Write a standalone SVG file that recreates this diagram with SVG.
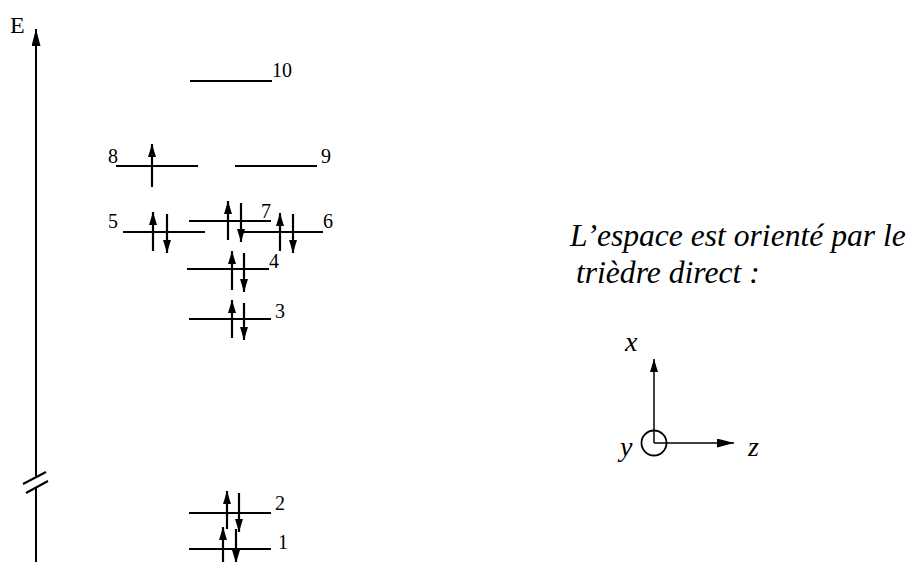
<svg xmlns="http://www.w3.org/2000/svg" width="911" height="562" viewBox="0 0 911 562">
<defs>
<marker id="ah" markerUnits="userSpaceOnUse" markerWidth="14" markerHeight="9" refX="13" refY="4" orient="auto">
<path d="M0,0 L13,4 L0,8 Z" fill="#000"/>
</marker>
<marker id="ahBig" markerUnits="userSpaceOnUse" markerWidth="18" markerHeight="10" refX="17" refY="4.5" orient="auto">
<path d="M0,0 L17,4.5 L0,9 Z" fill="#000"/>
</marker>
<style>
.lvl{stroke:#000;stroke-width:2.2;fill:none}
.el{stroke:#000;stroke-width:2.2;fill:none;marker-end:url(#ah)}
.ax{stroke:#000;stroke-width:2;fill:none}
.lbl{font-family:"Liberation Serif","Times New Roman",serif;font-size:20px;fill:#000}
.it{font-family:"Liberation Serif","Times New Roman",serif;font-style:italic;fill:#000}
</style>
</defs>
<g id="energy-axis">
<line class="ax" x1="36" y1="562" x2="36" y2="488"/>
<line class="ax" x1="36" y1="476" x2="36" y2="29" marker-end="url(#ahBig)"/>
<line class="ax" x1="23" y1="484" x2="46" y2="472"/>
<line class="ax" x1="26" y1="493" x2="48" y2="481"/>
<text class="lbl" x="10" y="33" style="font-size:24px">E</text>
</g>
<g id="level-10">
<line class="lvl" x1="190" y1="81" x2="272" y2="81"/>
<text class="lbl" x="272" y="77">10</text>
</g>
<g id="level-8">
<line class="lvl" x1="116" y1="166" x2="198" y2="166"/>
<text class="lbl" x="108" y="163">8</text>
</g>
<g id="level-9">
<line class="lvl" x1="235" y1="166" x2="317" y2="166"/>
<text class="lbl" x="321" y="163">9</text>
</g>
<g id="level-5">
<line class="lvl" x1="123" y1="232" x2="205" y2="232"/>
<text class="lbl" x="108" y="228">5</text>
</g>
<g id="level-7">
<line class="lvl" x1="189" y1="221" x2="271" y2="221"/>
<text class="lbl" x="261" y="218">7</text>
</g>
<g id="level-6">
<line class="lvl" x1="240" y1="232" x2="323" y2="232"/>
<text class="lbl" x="323" y="228">6</text>
</g>
<g id="level-4">
<line class="lvl" x1="187" y1="269" x2="269" y2="269"/>
<text class="lbl" x="269" y="268">4</text>
</g>
<g id="level-3">
<line class="lvl" x1="189" y1="319" x2="271" y2="319"/>
<text class="lbl" x="275" y="318">3</text>
</g>
<g id="level-2">
<line class="lvl" x1="189" y1="513" x2="271" y2="513"/>
<text class="lbl" x="275" y="510">2</text>
</g>
<g id="level-1">
<line class="lvl" x1="189" y1="549" x2="271" y2="549"/>
<text class="lbl" x="278" y="549">1</text>
</g>
<g id="electrons">
<line class="el" x1="152" y1="187" x2="152" y2="144"/>
<line class="el" x1="153" y1="251" x2="153" y2="212"/>
<line class="el" x1="167" y1="214" x2="167" y2="253"/>
<line class="el" x1="228" y1="240" x2="228" y2="201"/>
<line class="el" x1="241" y1="203" x2="241" y2="242"/>
<line class="el" x1="280" y1="251" x2="280" y2="213"/>
<line class="el" x1="293" y1="214" x2="293" y2="253"/>
<line class="el" x1="232" y1="290" x2="232" y2="251"/>
<line class="el" x1="244" y1="253" x2="244" y2="292"/>
<line class="el" x1="232" y1="338" x2="232" y2="300"/>
<line class="el" x1="244" y1="303" x2="244" y2="340"/>
<line class="el" x1="227" y1="529" x2="227" y2="491"/>
<line class="el" x1="239" y1="493" x2="239" y2="532"/>
<line class="el" x1="223" y1="562" x2="223" y2="527"/>
<line class="el" x1="236" y1="529" x2="236" y2="563"/>
</g>
<g id="caption">
<text class="it" x="570" y="246" style="font-size:31.6px">L’espace est orienté par le</text>
<text class="it" x="576" y="283" style="font-size:31.6px">trièdre direct :</text>
</g>
<g id="triad">
<circle cx="654" cy="443" r="12.5" fill="none" stroke="#000" stroke-width="1.8"/>
<line x1="654" y1="443" x2="654" y2="359" stroke="#000" stroke-width="1.5" marker-end="url(#ah)"/>
<line x1="654" y1="443" x2="734" y2="443" stroke="#000" stroke-width="1.5" marker-end="url(#ahBig)"/>
<text class="it" x="625" y="351" style="font-size:28px">x</text>
<text class="it" x="620" y="456" style="font-size:28px">y</text>
<text class="it" x="748" y="456" style="font-size:28px">z</text>
</g>
</svg>
